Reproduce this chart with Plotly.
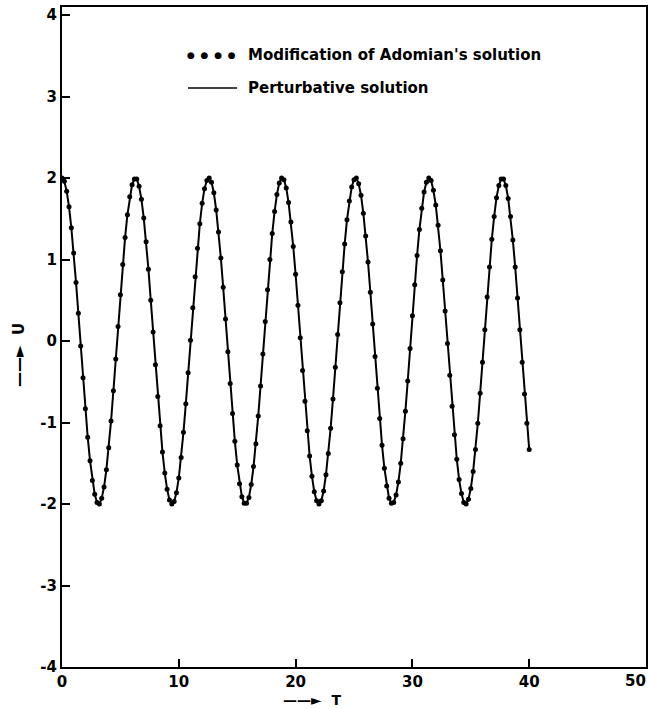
import plotly.graph_objects as go

# Time samples (dots every 0.2)
T = [round(0.2 * k, 1) for k in range(201)]

U = [
    2.00, 1.96, 1.84, 1.65, 1.39, 1.08, 0.72, 0.34, -0.06, -0.45,
    -0.83, -1.18, -1.47, -1.71, -1.88, -1.98, -2.00, -1.93, -1.79, -1.58,
    -1.31, -0.98, -0.61, -0.22, 0.18, 0.57, 0.94, 1.27, 1.55, 1.77,
    1.92, 1.99, 1.99, 1.90, 1.74, 1.51, 1.22, 0.88, 0.50, 0.11,
    -0.29, -0.68, -1.04, -1.36, -1.62, -1.82, -1.95, -2.00, -1.97, -1.86,
    -1.68, -1.43, -1.12, -0.77, -0.39, 0.01, 0.41, 0.79, 1.14, 1.44,
    1.69, 1.87, 1.97, 2.00, 1.95, 1.82, 1.61, 1.34, 1.02, 0.66,
    0.27, -0.13, -0.52, -0.89, -1.23, -1.52, -1.75, -1.91, -1.99, -1.99,
    -1.92, -1.76, -1.54, -1.26, -0.92, -0.55, -0.16, 0.24, 0.63, 1.00,
    1.32, 1.59, 1.80, 1.94, 2.00, 1.98, 1.88, 1.70, 1.46, 1.16,
    0.82, 0.44, 0.04, -0.36, -0.74, -1.10, -1.41, -1.66, -1.85, -1.96,
    -2.00, -1.96, -1.84, -1.64, -1.38, -1.07, -0.71, -0.32, 0.08, 0.47,
    0.85, 1.19, 1.49, 1.72, 1.89, 1.98, 2.00, 1.93, 1.79, 1.57,
    1.29, 0.97, 0.60, 0.21, -0.19, -0.58, -0.95, -1.28, -1.56, -1.78,
    -1.93, -1.99, -1.98, -1.89, -1.73, -1.50, -1.20, -0.86, -0.49, -0.09,
    0.31, 0.69, 1.05, 1.37, 1.63, 1.83, 1.95, 2.00, 1.97, 1.85,
    1.67, 1.42, 1.11, 0.75, 0.37, -0.03, -0.42, -0.80, -1.15, -1.45,
    -1.70, -1.87, -1.98, -2.00, -1.94, -1.81, -1.60, -1.33, -1.01, -0.64,
    -0.26, 0.14, 0.54, 0.91, 1.25, 1.53, 1.76, 1.91, 1.99, 1.99,
    1.91, 1.75, 1.53, 1.24, 0.91, 0.53, 0.14, -0.26, -0.65, -1.01,
    -1.33,
]

x_ticks = [0, 10, 20, 30, 40, 50]
y_ticks = [-4, -3, -2, -1, 0, 1, 2, 3, 4]

legend_dots = "Modification of Adomian's solution"
legend_line = "Perturbative solution"

FONT = "DejaVu Sans"
L, R, TOP, BOT = 62, 646, 7, 667
PW, PH = R - L, BOT - TOP


def px(xp):
    return (xp - L) / PW


def py(yp):
    return (BOT - yp) / PH


fig = go.Figure()
fig.add_trace(go.Scatter(x=T, y=U, mode="lines", line=dict(color="black", width=2),
                         showlegend=False, hoverinfo="skip"))
fig.add_trace(go.Scatter(x=T, y=U, mode="markers", marker=dict(color="black", size=5),
                         showlegend=False))

tick_font = dict(family=FONT, size=15, color="black", weight="bold")
axis_common = dict(showline=True, linecolor="black", linewidth=2, mirror=True,
                   ticks="inside", ticklen=8, tickwidth=2, tickcolor="black",
                   showgrid=False, zeroline=False, automargin=False,
                   tickfont=tick_font)

# last x label (at the right border) is placed as text just inside the page edge
x_text = [str(v) for v in x_ticks[:-1]] + [""]
fig.update_xaxes(range=[0, 50], tickvals=x_ticks, ticktext=x_text, **axis_common)
fig.update_yaxes(range=[-4, 4.1], tickvals=y_ticks, ticktext=[str(v) for v in y_ticks], **axis_common)
fig.add_annotation(x=x_ticks[-1], xref="x", y=py(671), yref="paper", xshift=-11,
                   text=str(x_ticks[-1]), showarrow=False, xanchor="center", yanchor="top",
                   borderpad=0, font=tick_font)

ann_font = dict(family=FONT, size=15, color="black", weight="bold")
sp = "\u00a0\u00a0"
fig.add_annotation(x=px(185), y=py(55), xref="paper", yref="paper",
                   text=sp.join(["\u25cf"] * 4), showarrow=False, xanchor="left",
                   yanchor="middle", font=dict(family=FONT, size=9, color="black"))
fig.add_annotation(x=px(246), y=py(55), xref="paper", yref="paper",
                   text=legend_dots, showarrow=False, xanchor="left", yanchor="middle",
                   font=ann_font)
fig.add_shape(type="line", xref="paper", yref="paper",
              x0=px(188), x1=px(237), y0=py(88), y1=py(88),
              line=dict(color="black", width=1.5))
fig.add_annotation(x=px(246), y=py(88), xref="paper", yref="paper",
                   text=legend_line, showarrow=False, xanchor="left", yanchor="middle",
                   font=ann_font)

# axis titles with arrows
fig.add_annotation(x=px(281), y=py(700), xref="paper", yref="paper",
                   text="\u2014\u2014\u25ba  T", showarrow=False, xanchor="left", yanchor="middle",
                   font=dict(family=FONT, size=14, color="black", weight="bold"))
fig.add_annotation(x=px(19), y=py(389), xref="paper", yref="paper",
                   text="\u2014\u2014\u25ba  U", showarrow=False, textangle=-90,
                   xanchor="center", yanchor="bottom",
                   font=dict(family=FONT, size=15, color="black", weight="bold"))

fig.update_layout(width=649, height=709, margin=dict(l=L, r=649 - R, t=TOP, b=709 - BOT),
                  plot_bgcolor="white", paper_bgcolor="white")

fig.write_html("out.html", config={"displayModeBar": False},
               post_script="document.body.style.margin='0';")
